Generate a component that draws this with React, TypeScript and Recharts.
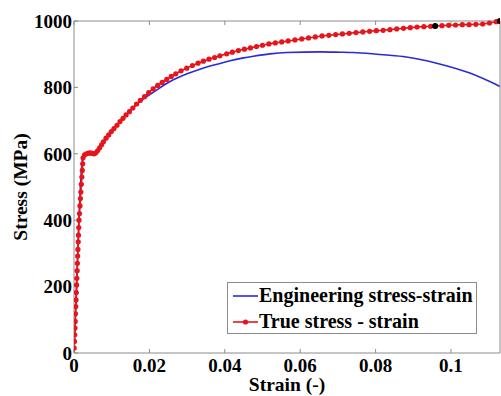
import React from "react";
import { LineChart, Line, XAxis, YAxis } from "recharts";

// ─── Data ────────────────────────────────────────────────────────────────────

const engStrain = [
  0, 0.0007, 0.0013, 0.0019, 0.0023, 0.003, 0.004, 0.005, 0.006, 0.0078, 0.01,
  0.0122, 0.0145, 0.0166, 0.019, 0.0215, 0.0255, 0.03, 0.0334, 0.0387, 0.0414,
  0.045, 0.0476, 0.052, 0.0564, 0.0653, 0.0706, 0.0741, 0.0803, 0.0873, 0.0962,
  0.105, 0.113,
];
const engStress = [
  0, 200, 400, 540, 588, 598, 600, 597, 601, 634, 668, 697, 725, 749, 770, 789,
  818, 841, 855, 872, 880, 889, 894, 901, 905, 907, 906, 905, 900, 893, 873, 843,
  803,
];

const trueStrain = [
  0.00005, 0.00012, 0.00018, 0.00025, 0.00032, 0.00039, 0.00047, 0.00053,
  0.00061, 0.00068, 0.00075, 0.00083, 0.0009, 0.00097, 0.00104, 0.00112,
  0.00118, 0.00126, 0.00133, 0.00145, 0.00158, 0.0017, 0.00182, 0.00195,
  0.00208, 0.0022, 0.0023, 0.0024, 0.0028, 0.0033, 0.0038, 0.0043, 0.0048,
  0.0053, 0.0058, 0.0063, 0.0068, 0.0073, 0.0078, 0.0085, 0.0092, 0.0099,
  0.0106, 0.0114, 0.0122, 0.013, 0.0138, 0.0147, 0.0156, 0.0166, 0.0176,
  0.0187, 0.0198, 0.021, 0.0222, 0.0234, 0.0246, 0.0258, 0.027, 0.0284,
  0.0299, 0.0314, 0.0329, 0.0343, 0.0358, 0.0373, 0.0387, 0.0405, 0.042,
  0.0436, 0.0452, 0.0468, 0.0484, 0.05, 0.0517, 0.0534, 0.0551, 0.0568,
  0.0586, 0.0604, 0.0622, 0.064, 0.0658, 0.0676, 0.0694, 0.0712, 0.073,
  0.0748, 0.0766, 0.0784, 0.0802, 0.082, 0.0838, 0.0856, 0.0874, 0.0892,
  0.091, 0.0928, 0.0946, 0.0958, 0.0976, 0.0994, 0.1012, 0.103, 0.1048,
  0.1066, 0.1084, 0.1102, 0.112, 0.113,
];
const trueStress = [
  15, 35, 55, 75, 95, 118, 140, 160, 182, 205, 225, 248, 270, 292, 312, 335,
  355, 378, 400, 420, 443, 465, 485, 508, 530, 550, 570, 588, 597, 600, 602,
  603, 601, 600, 603, 610, 618, 627, 636, 647, 657, 667, 676, 686, 697, 707,
  717, 727, 738, 750, 761, 772, 784, 796, 806, 815, 824, 833, 841, 850, 858,
  866, 873, 879, 885, 890, 895, 901, 906, 911, 915, 919, 923, 927, 931, 934,
  937, 940, 943, 946, 949, 952, 955, 957, 959, 961, 963, 965, 967, 969, 971,
  972, 974, 976, 978, 980, 982, 983, 984, 985, 986, 987, 988, 989, 989, 990,
  991, 994, 998, 1000,
];

const markStrain = [0.0958, 0.113];
const markStress = [985, 1000];

const xTicks = [0, 0.02, 0.04, 0.06, 0.08, 0.1];
const yTicks = [0, 200, 400, 600, 800, 1000];

// ─── Chart ───────────────────────────────────────────────────────────────────

const BLUE = "#2a2ad8";
const RED = "#e8141c";
const AXIS = "#8c8c8c";
const FONT = "'Liberation Serif', 'Times New Roman', serif";

const engData = engStrain.map((x, i) => ({ x, y: engStress[i] }));
const trueData = trueStrain.map((x, i) => ({ x, y: trueStress[i] }));
const markData = markStrain.map((x, i) => ({ x, y: markStress[i] }));

const tickStyle = { fontSize: 19, fontWeight: 700, fill: "#000", fontFamily: FONT };
const labelStyle = { fontSize: 19.5, fontWeight: 700, fill: "#000", fontFamily: FONT };
const blank = () => "";

export default function App() {
  return (
    <div style={{ position: "absolute", left: 0, top: 0, width: 501, height: 396, background: "#fff" }}>
      <LineChart
        width={501}
        height={396}
        margin={{ top: 20, right: 0, bottom: 0, left: 0 }}
        style={{ fontFamily: FONT }}
      >
        <XAxis
          xAxisId="bottom"
          dataKey="x"
          type="number"
          domain={[0, 0.113]}
          ticks={xTicks}
          tickFormatter={(v: number) => String(v)}
          allowDataOverflow
          height={43}
          stroke={AXIS}
          tickSize={-4}
          tickMargin={10}
          tick={tickStyle}
          label={{ value: "Strain (-)", position: "insideBottom", offset: 5, style: labelStyle }}
        />
        <XAxis
          xAxisId="top"
          orientation="top"
          dataKey="x"
          type="number"
          domain={[0, 0.113]}
          ticks={xTicks}
          tickFormatter={blank}
          allowDataOverflow
          height={1}
          stroke={AXIS}
          tickSize={-4}
        />
        <YAxis
          yAxisId="left"
          type="number"
          domain={[0, 1000]}
          ticks={yTicks}
          width={74}
          stroke={AXIS}
          tickSize={-4}
          tickMargin={6}
          tick={tickStyle}
          label={{ value: "Stress (MPa)", angle: -90, position: "center", dx: -17, style: labelStyle }}
        />
        <YAxis
          yAxisId="right"
          orientation="right"
          type="number"
          domain={[0, 1000]}
          ticks={yTicks}
          tickFormatter={blank}
          width={1}
          stroke={AXIS}
          tickSize={-4}
        />

        <Line
          xAxisId="bottom"
          yAxisId="left"
          data={engData}
          dataKey="y"
          type="monotone"
          stroke={BLUE}
          strokeWidth={1.6}
          dot={false}
          isAnimationActive={false}
        />
        <Line
          xAxisId="bottom"
          yAxisId="left"
          data={trueData}
          dataKey="y"
          type="linear"
          stroke={RED}
          strokeWidth={1.6}
          dot={{ r: 2.6, fill: RED, stroke: RED, strokeWidth: 0 }}
          isAnimationActive={false}
        />
        <Line
          xAxisId="bottom"
          yAxisId="left"
          data={markData}
          dataKey="y"
          stroke="none"
          dot={{ r: 3, fill: "#000", stroke: "#000", strokeWidth: 0 }}
          isAnimationActive={false}
        />
      </LineChart>

      {/* Legend box */}
      <div
        style={{
          position: "absolute",
          left: 227,
          top: 282,
          width: 248,
          height: 50,
          border: `1px solid ${AXIS}`,
          background: "#fff",
          fontFamily: FONT,
          fontWeight: 700,
          fontSize: 20,
          lineHeight: "23px",
          color: "#000",
        }}
      >
        <div style={{ position: "absolute", left: 4, top: 1, display: "flex", alignItems: "center", whiteSpace: "nowrap" }}>
          <svg width={27} height={20}>
            <line x1={1} y1={10} x2={26} y2={10} stroke={BLUE} strokeWidth={1.6} />
          </svg>
          <span>Engineering stress-strain</span>
        </div>
        <div style={{ position: "absolute", left: 4, top: 27, display: "flex", alignItems: "center", whiteSpace: "nowrap" }}>
          <svg width={27} height={20}>
            <line x1={1} y1={10} x2={26} y2={10} stroke={RED} strokeWidth={1.6} />
            <circle cx={13.5} cy={10} r={2.6} fill={RED} />
          </svg>
          <span>True stress - strain</span>
        </div>
      </div>
    </div>
  );
}
